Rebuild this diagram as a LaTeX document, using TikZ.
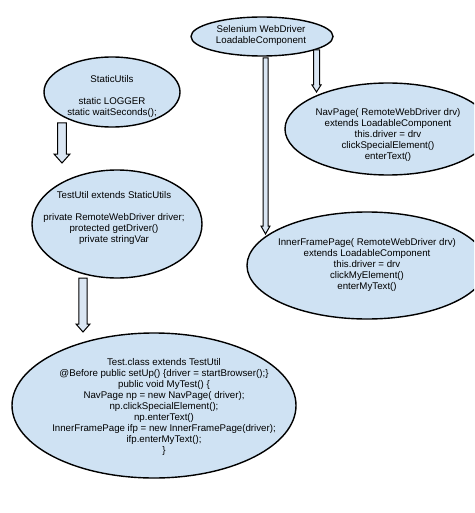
\documentclass[tikz,border=0pt]{standalone}
\usepackage{fontspec}
\setmainfont{Liberation Sans}
\usetikzlibrary{shapes.geometric,calc}
\definecolor{ellfill}{HTML}{CFE2F3}
\definecolor{arrfill}{HTML}{DAE6F3}
\newcommand\blockarrow[5]{%
  \draw[barrow] ($(#1)+(-#3,0)$) -- ($(#2)+(-#3,-#5)$) -- ($(#2)+(-#4,-#5)$) -- (#2)
    -- ($(#2)+(#4,-#5)$) -- ($(#2)+(#3,-#5)$) -- ($(#1)+(#3,0)$) -- cycle;}
\begin{document}
\begin{tikzpicture}[x=1pt,y=-1pt,
  ell/.style={ellipse, draw=black, line width=1.4pt, fill=ellfill, inner sep=0pt},
  txt/.style={align=center, font=\fontsize{9.7}{11}\selectfont, inner sep=0pt},
  barrow/.style={draw=black, line width=1pt, fill=arrfill, line join=miter}]
\useasboundingbox (0,0) rectangle (474,513);
\clip (0,0) rectangle (474,513);
\fill[white] (0,0) rectangle (474,513);
% ellipses
\node[ell, minimum width=142pt, minimum height=39pt] (sel) at (262,36.5) {};
\node[ell, minimum width=136pt, minimum height=70pt] (su) at (112,92) {};
\node[ell, minimum width=170pt, minimum height=108pt] (tu) at (117,224) {};
\node[ell, minimum width=284pt, minimum height=145pt] (tc) at (154,405.5) {};
\node[ell, minimum width=206pt, minimum height=92pt] (nav) at (388,129) {};
\node[ell, minimum width=240pt, minimum height=107pt] (ifp) at (367,265.5) {};
% texts
\node[txt] (selt) at (261,35.5) {Selenium WebDriver\\LoadableComponent};
\node[txt] (sut) at (112,96) {StaticUtils\\[11pt]static LOGGER\\static waitSeconds();};
\node[txt] (tut) at (114,218) {TestUtil extends StaticUtils\\[11pt]private RemoteWebDriver driver;\\protected getDriver()\\private stringVar};
\node[txt] (tct) at (164,406.5) {Test.class extends TestUtil\\@Before public setUp() \{driver = startBrowser();\}\\public void MyTest() \{\\NavPage np = new NavPage( driver);\\np.clickSpecialElement();\\np.enterText()\\InnerFramePage ifp = new InnerFramePage(driver);\\ifp.enterMyText();\\\}};
\node[txt] (navt) at (388,135) {NavPage( RemoteWebDriver drv)\\extends LoadableComponent\\this.driver = drv\\clickSpecialElement()\\enterText()};
\node[txt] (ifpt) at (367,265) {InnerFramePage( RemoteWebDriver drv)\\extends LoadableComponent\\this.driver = drv\\clickMyElement()\\enterMyText()};
% arrow ends
\coordinate (a1s) at (62,123);  \coordinate (a1e) at (62,163);
\coordinate (a2s) at (83,278);  \coordinate (a2e) at (83,332);
\coordinate (a3s) at (316.5,50); \coordinate (a3e) at (316.5,92);
\coordinate (a4s) at (265.5,58); \coordinate (a4e) at (265.5,234);
\blockarrow{a1s}{a1e}{4.4}{8}{9}
\blockarrow{a2s}{a2e}{4.2}{7}{8}
\blockarrow{a3s}{a3e}{3}{4.5}{7}
\blockarrow{a4s}{a4e}{2.5}{4.5}{8}
\end{tikzpicture}
\end{document}
